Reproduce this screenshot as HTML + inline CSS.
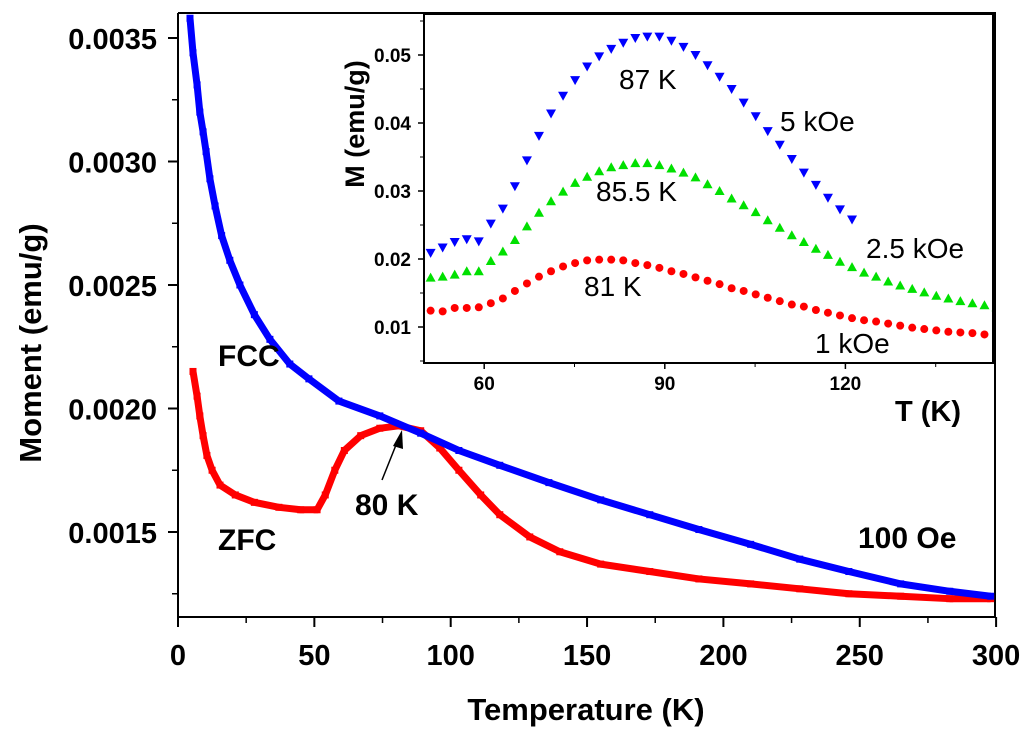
<!DOCTYPE html>
<html><head><meta charset="utf-8"><style>
html,body{margin:0;padding:0;background:#fff;}
svg{display:block;font-family:"Liberation Sans",Arial,sans-serif;}
</style></head><body>
<svg id="chart" width="1024" height="739" viewBox="0 0 1024 739" xmlns="http://www.w3.org/2000/svg">
<defs><clipPath id="insetClip"><rect x="425" y="15" width="567" height="347"/></clipPath></defs>
</svg>
<script>
// ---- Main chart data ----
const fccT = [4.4,5.5,7,8,9.2,10.3,11.7,13.6,16,19,22.7,28,33.7,41,48,59,74,89,103,118,136,155,173,191,210,228,246,265,283,298];
const fccM = [0.00358,0.00344,0.00331,0.00320,0.00312,0.00304,0.00293,0.00282,0.00270,0.00260,0.00250,0.00238,0.00228,0.00218,0.00212,0.00203,0.00197,0.00190,0.00183,0.00177,0.00170,0.00163,0.00157,0.00151,0.00145,0.00139,0.00134,0.00129,0.00126,0.00124];
const zfcT = [5.5,7,8,9.2,10.6,12.5,15.4,21,28,37,45,51,54,57.5,61,67,74,81,89,96,103,111,118,129,140,155,173,191,210,228,246,265,283,298];
const zfcM = [0.00215,0.00205,0.00197,0.00189,0.00181,0.00175,0.00169,0.00165,0.00162,0.00160,0.00159,0.00159,0.00165,0.00175,0.00183,0.00189,0.00192,0.00193,0.00191,0.00184,0.00175,0.00165,0.00157,0.00148,0.00142,0.00137,0.00134,0.00131,0.00129,0.00127,0.00125,0.00124,0.00123,0.00123];
const xTicks = [0,50,100,150,200,250,300];
const yTicks = [0.0015,0.0020,0.0025,0.0030,0.0035];
const yTickLabels = ["0.0015","0.0020","0.0025","0.0030","0.0035"];
// ---- Inset data (T = 51.1 + 2*i) ----
const insetT0 = 51.1, insetStep = 2;
const m5k = [0.0209,0.0217,0.0225,0.0229,0.0226,0.0252,0.0274,0.0307,0.0345,0.0381,0.0414,0.0440,0.0463,0.0483,0.0498,0.0509,0.0518,0.0525,0.0527,0.0527,0.0521,0.0512,0.0500,0.0485,0.0468,0.0450,0.0430,0.0410,0.0388,0.0368,0.0347,0.0327,0.0309,0.0290,0.0273,0.0258];
const m25k = [0.01726,0.0174,0.0177,0.0182,0.0182,0.0197,0.0211,0.0228,0.0248,0.0268,0.0285,0.0299,0.0312,0.0321,0.0329,0.0335,0.0338,0.0341,0.0341,0.0338,0.0333,0.0327,0.0320,0.0310,0.0300,0.0289,0.0279,0.0269,0.0257,0.0246,0.0235,0.0225,0.0215,0.0206,0.0196,0.0188,0.0180,0.0174,0.0167,0.0161,0.0156,0.0151,0.0146,0.0142,0.0138,0.0135,0.0132,0.0129];
const m1k = [0.0124,0.0123,0.0128,0.0128,0.0129,0.0135,0.0142,0.0153,0.0164,0.0174,0.0182,0.0189,0.0194,0.0198,0.0199,0.0199,0.0198,0.0194,0.0191,0.0187,0.0182,0.0178,0.0173,0.0168,0.0163,0.0157,0.0153,0.0148,0.0143,0.0138,0.0133,0.0130,0.0125,0.0121,0.0117,0.0113,0.0110,0.0108,0.0105,0.0102,0.0099,0.0097,0.0095,0.0093,0.0092,0.0091,0.0089,0.0088];
const insetXTicks = [60,90,120];
const insetYTicks = [0.01,0.02,0.03,0.04,0.05];
const insetYLabels = ["0.01","0.02","0.03","0.04","0.05"];

const NS="http://www.w3.org/2000/svg";
const svg=document.getElementById('chart');
function mk(tag,attrs,parent){const e=document.createElementNS(NS,tag);for(const k in attrs)e.setAttribute(k,attrs[k]);(parent||svg).appendChild(e);return e;}
const X=t=>178+(t-0)*2.727;
const Y=m=>532-(m-0.0015)/0.0005*123.5;
const IX=t=>424+(t-50)*6.02;
const IY=m=>327-(m-0.01)*6800;

const ax=mk('g',{});


mk('path',{d:'M178 13 V617 H995 V13 H178',fill:'none',stroke:'#000','stroke-width':2},ax);
xTicks.forEach((t,i)=>{
  mk('line',{x1:X(t),x2:X(t),y1:617,y2:627,stroke:'#000','stroke-width':2},ax);
  if(i<xTicks.length-1) mk('line',{x1:X(t+25),x2:X(t+25),y1:617,y2:623,stroke:'#000','stroke-width':1.5},ax);
  const tx=mk('text',{x:X(t),y:665,'text-anchor':'middle','font-size':29,'font-weight':'bold'},ax);tx.textContent=t;
  
  
});
yTicks.forEach((v,i)=>{
  mk('line',{x1:168,x2:178,y1:Y(v),y2:Y(v),stroke:'#000','stroke-width':2},ax);
  mk('line',{x1:172,x2:178,y1:Y(v-0.00025),y2:Y(v-0.00025),stroke:'#000','stroke-width':1.5},ax);
  const tx=mk('text',{x:157,y:Y(v)+11,'text-anchor':'end','font-size':29,'font-weight':'bold'},ax);tx.textContent=yTickLabels[i];
  
  
});
let t=mk('text',{x:586,y:720,'text-anchor':'middle','font-size':31,'font-weight':'bold'});t.textContent='Temperature (K)';


t=mk('text',{x:0,y:0,'text-anchor':'middle','font-size':31,'font-weight':'bold',transform:'translate(41,343) rotate(-90)'});t.textContent='Moment (emu/g)';



function series(T,M,fx,fy,color,name,marker,sz,band,parent){
  const g=mk('g',{},parent);
  
  
  if(band){mk('polyline',{points:T.map((tt,i)=>fx(tt)+','+fy(M[i])).join(' '),fill:'none',stroke:color,'stroke-width':band,'stroke-linejoin':'round'},g);}
  T.forEach((tt,i)=>{
    const x=fx(tt),y=fy(M[i]);let e;
    if(marker==='sq') e=mk('rect',{x:x-sz/2,y:y-sz/2,width:sz,height:sz,fill:color},g);
    else if(marker==='c') e=mk('circle',{cx:x,cy:y,r:sz/2,fill:color},g);
    else if(marker==='up') e=mk('polygon',{points:`${x-sz/2},${y+sz/2.5} ${x+sz/2},${y+sz/2.5} ${x},${y-sz/2}`,fill:color},g);
    else e=mk('polygon',{points:`${x-sz/2},${y-sz/2.5} ${x+sz/2},${y-sz/2.5} ${x},${y+sz/2}`,fill:color},g);
    
    
  });
}
series(zfcT,zfcM,X,Y,'#ff0000','zfc-series','sq',7,7);
series(fccT,fccM,X,Y,'#0000ff','fcc-series','sq',7,7);

function lbl(x,y,s,txt,name,bold,parent){const e=mk('text',{x:x,y:y,'font-size':s,'font-weight':bold?'bold':'normal'},parent);e.textContent=txt;return e;}
lbl(218,366,30,'FCC','fcc-label',1);
lbl(218,550,30,'ZFC','zfc-label',1);
lbl(355,515,30,'80 K','transition-label',1);
lbl(858,548,30,'100 Oe','field-label',1);
const ar=mk('g',{});


mk('line',{x1:382,y1:480,x2:398,y2:440,stroke:'#000','stroke-width':1.5},ar);
mk('polygon',{points:'402,430 393,446 403,449',fill:'#000'},ar);

// inset
const ig=mk('g',{});


mk('rect',{x:424,y:14,width:569,height:349,fill:'#fff',stroke:'none'},ig);
const clipG=mk('g',{'clip-path':'url(#insetClip)'},ig);
series(tArr(m1k),m1k,IX,IY,'#ff0000','inset-1koe-series','c',8,0,clipG);
series(tArr(m25k),m25k,IX,IY,'#00e000','inset-2p5koe-series','up',10,0,clipG);
series(tArr(m5k),m5k,IX,IY,'#0000ff','inset-5koe-series','down',10,0,clipG);
function tArr(a){return a.map((_,i)=>insetT0+insetStep*i);}
mk('rect',{x:424,y:14,width:569,height:349,fill:'none',stroke:'#000','stroke-width':2},ig);
insetXTicks.forEach(v=>{
  mk('line',{x1:IX(v),x2:IX(v),y1:363,y2:369,stroke:'#000','stroke-width':1.5},ig);
  mk('line',{x1:IX(v+15),x2:IX(v+15),y1:363,y2:367,stroke:'#000','stroke-width':1},ig);
  const e=mk('text',{x:IX(v),y:390,'text-anchor':'middle','font-size':19,'font-weight':'bold'},ig);e.textContent=v;
  
  
});
insetYTicks.forEach((v,i)=>{
  mk('line',{x1:418,x2:424,y1:IY(v),y2:IY(v),stroke:'#000','stroke-width':1.5},ig);
  mk('line',{x1:420,x2:424,y1:IY(v-0.005),y2:IY(v-0.005),stroke:'#000','stroke-width':1},ig);
  const e=mk('text',{x:411,y:IY(v)+7,'text-anchor':'end','font-size':19,'font-weight':'bold'},ig);e.textContent=insetYLabels[i];
  
  
});
mk('line',{x1:420,x2:424,y1:IY(0.055),y2:IY(0.055),stroke:'#000','stroke-width':1},ig);
t=mk('text',{x:0,y:0,'text-anchor':'middle','font-size':27,'font-weight':'bold',transform:'translate(364,124) rotate(-90)'},ig);t.textContent='M (emu/g)';


t=mk('text',{x:895,y:421,'font-size':29,'font-weight':'bold'},ig);t.textContent='T (K)';


lbl(619,89,28,'87 K','peak-87k-label',0,ig);
lbl(596,201,28,'85.5 K','peak-85-5k-label',0,ig);
lbl(584,296,28,'81 K','peak-81k-label',0,ig);
lbl(780,131,28,'5 kOe','field-5koe-label',0,ig);
lbl(866,258,28,'2.5 kOe','field-2-5koe-label',0,ig);
lbl(815,353,28,'1 kOe','field-1koe-label',0,ig);
</script>
</body></html>
